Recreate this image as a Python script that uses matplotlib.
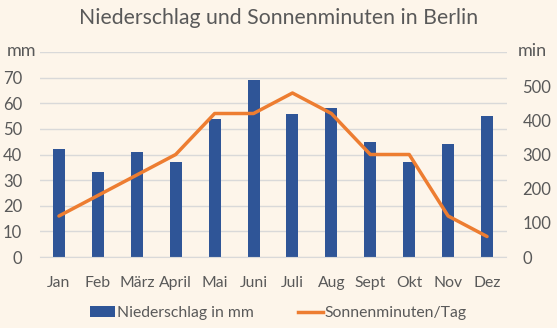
import matplotlib
matplotlib.use("Agg")
import matplotlib.pyplot as plt
from matplotlib.lines import Line2D
from matplotlib.patches import Patch

months = ["Jan", "Feb", "März", "April", "Mai", "Juni", "Juli", "Aug", "Sept", "Okt", "Nov", "Dez"]
niederschlag_mm = [42, 33, 41, 37, 54, 69, 56, 58, 45, 37, 44, 55]
sonnenminuten = [120, 180, 240, 300, 420, 420, 480, 420, 300, 300, 120, 60]
left_ticks = [0, 10, 20, 30, 40, 50, 60, 70]
right_ticks = [0, 100, 200, 300, 400, 500]

BG = "#FDF5EA"
BAR = "#2F5597"
LINE = "#ED7D31"
TEXT = "#595959"
GRID = "#D9D9D9"

plt.rcParams["font.family"] = ["Lato", "DejaVu Sans"]

fig = plt.figure(figsize=(5.57, 3.28), dpi=100, facecolor=BG)
ax = fig.add_axes([39.5 / 557, 1 - 257 / 328, 467 / 557, 205 / 328])
ax.set_facecolor(BG)

x = list(range(len(months)))
ax.bar(x, niederschlag_mm, width=0.31, color=BAR, zorder=2)
ax.set_xlim(-0.5, len(months) - 0.5)
ax.set_ylim(0, 80)
ax.set_yticks(left_ticks + [80])
ax.set_yticklabels([str(v) for v in left_ticks] + [""])
ax.set_xticks(x)
ax.set_xticklabels(months)
ax.yaxis.grid(True, color=GRID, linewidth=1, zorder=0)
ax.set_axisbelow(True)
for s in ["top", "right", "left"]:
    ax.spines[s].set_visible(False)
ax.spines["bottom"].set_color(GRID)
ax.tick_params(axis="x", length=0, labelsize=11.3, colors=TEXT, pad=14)
ax.tick_params(axis="y", length=0, labelsize=12, colors=TEXT, pad=12.5)

ax2 = ax.twinx()
ax2.plot(x, sonnenminuten, color=LINE, linewidth=2.5, zorder=3,
         solid_joinstyle="round", solid_capstyle="round")
ax2.set_ylim(0, 600)
ax2.set_yticks(right_ticks)
ax2.set_yticklabels([str(v) for v in right_ticks])
for s in ["top", "right", "left", "bottom"]:
    ax2.spines[s].set_visible(False)
ax2.tick_params(axis="y", length=0, labelsize=12, colors=TEXT, pad=11.5)

# unit labels at the top of each value axis
fig.text(22 / 557, 1 - 51 / 328, "mm", ha="center", va="center",
         fontsize=13, color=TEXT)
fig.text(532 / 557, 1 - 51 / 328, "min", ha="center", va="center",
         fontsize=13, color=TEXT)

fig.text(0.5, 1 - 18 / 328, "Niederschlag und Sonnenminuten in Berlin",
         ha="center", va="center", fontsize=15.3, color=TEXT)

handles = [Patch(facecolor=BAR, edgecolor="none"),
           Line2D([0], [0], color=LINE, linewidth=2.5)]
fig.legend(handles, ["Niederschlag in mm", "Sonnenminuten/Tag"],
           loc="center", bbox_to_anchor=(0.5, 1 - 313 / 328), ncol=2,
           frameon=False, fontsize=11.3, labelcolor=TEXT, handlelength=1.6,
           handletextpad=0.1, columnspacing=2.8)

fig.savefig("out.png", dpi=100, facecolor=BG)
